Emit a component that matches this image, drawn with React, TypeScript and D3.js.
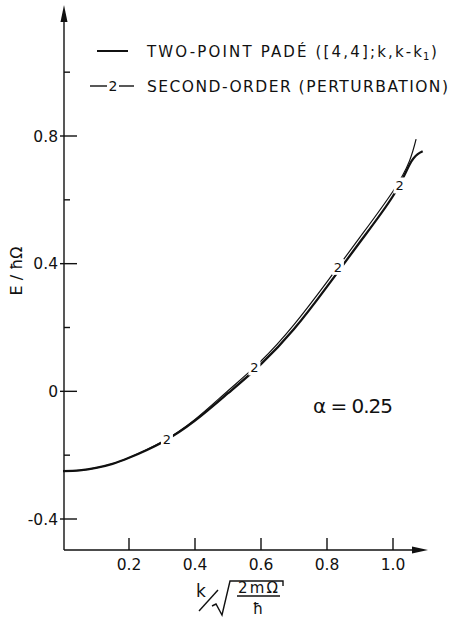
import React from "react";
import * as d3 from "d3";

// Two-point Padé curve (k, E/ħΩ)
const kPade = [0, 0.05, 0.1, 0.15, 0.2, 0.3, 0.4, 0.5, 0.6, 0.7, 0.8, 0.9, 1.0, 1.05, 1.075, 1.09];
const ePade = [-0.25, -0.2475, -0.24, -0.227, -0.208, -0.16, -0.092, -0.006, 0.085, 0.195, 0.328, 0.468, 0.612, 0.71, 0.743, 0.752];

// Second-order perturbation curve
const kPert = [0, 0.05, 0.1, 0.15, 0.2, 0.3, 0.4, 0.5, 0.6, 0.7, 0.8, 0.9, 1.0, 1.05, 1.07];
const ePert = [-0.25, -0.2475, -0.24, -0.227, -0.208, -0.158, -0.088, 0.002, 0.095, 0.209, 0.343, 0.483, 0.627, 0.722, 0.79];

// "2" curve labels
const labelK = [0.315, 0.58, 0.833, 1.02];
const labelE = [-0.151, 0.075, 0.39, 0.645];

const yTicksMajor = [-0.4, 0, 0.4, 0.8];
const yTicksMinor = [-0.2, 0.2, 0.6, 1.0];
const xTicks = [0.2, 0.4, 0.6, 0.8, 1.0];

const legendPade = "TWO-POINT PADÉ ([4,4];k,k-k";
const legendPert = "SECOND-ORDER (PERTURBATION)";
const alphaText = "α = 0.25";

const FONT = "'DejaVu Sans', sans-serif";

export default function App() {
  const x = d3.scaleLinear().domain([0, 1]).range([63, 393]);
  const y = d3.scaleLinear().domain([-0.4, 0.8]).range([519, 136]);
  const axX = 64;
  const axY = 550;

  const line = d3
    .line<[number, number]>()
    .x((d) => x(d[0]))
    .y((d) => y(d[1]))
    .curve(d3.curveNatural);

  const padePts = kPade.map((k, i) => [k, ePade[i]] as [number, number]);
  const pertPts = kPert.map((k, i) => [k, ePert[i]] as [number, number]);

  const fmt = (v: number) => (v === 0 ? "0" : v.toFixed(1));

  return (
    <svg
      width={450}
      height={617}
      style={{ position: "absolute", left: 0, top: 0, background: "#fff" }}
    >
      <rect x={0} y={0} width={450} height={617} fill="#fff" />
      {/* axes */}
      <line x1={axX} y1={axY} x2={axX} y2={14} stroke="#111" strokeWidth={1.4} />
      <path d={`M${axX},5 L${axX - 3.5},22 L${axX + 3.5},22 Z`} fill="#111" />
      <line x1={axX} y1={axY} x2={418} y2={axY} stroke="#111" strokeWidth={1.4} />
      <path d={`M428,${axY} L412,${axY - 3.5} L412,${axY + 3.5} Z`} fill="#111" />

      {/* y ticks */}
      {yTicksMajor.map((v) => (
        <g key={"ym" + v}>
          <line x1={axX - 4} x2={axX + 13} y1={y(v)} y2={y(v)} stroke="#111" strokeWidth={1.4} />
          <text
            x={axX - 6}
            y={y(v)}
            dy="0.36em"
            textAnchor="end"
            fontFamily={FONT}
            fontSize={15.5}
            fill="#111"
          >
            {fmt(v)}
          </text>
        </g>
      ))}
      {yTicksMinor.map((v) => (
        <line key={"yn" + v} x1={axX} x2={axX + 6} y1={y(v)} y2={y(v)} stroke="#111" strokeWidth={1.4} />
      ))}

      {/* x ticks */}
      {xTicks.map((v) => (
        <g key={"x" + v}>
          <line x1={x(v)} x2={x(v)} y1={axY} y2={axY - 12} stroke="#111" strokeWidth={1.4} />
          <text
            x={x(v)}
            y={axY + 20}
            textAnchor="middle"
            fontFamily={FONT}
            fontSize={15.5}
            fill="#111"
          >
            {fmt(v)}
          </text>
        </g>
      ))}

      {/* curves */}
      <path d={line(padePts) || ""} fill="none" stroke="#111" strokeWidth={2.3} />
      <path d={line(pertPts) || ""} fill="none" stroke="#111" strokeWidth={1.2} />

      {/* "2" labels */}
      {labelK.map((k, i) => (
        <g key={"l" + i}>
          <rect x={x(k) - 6} y={y(labelE[i]) - 8} width={12} height={16} fill="#fff" />
          <text
            x={x(k)}
            y={y(labelE[i])}
            dy="0.36em"
            textAnchor="middle"
            fontFamily={FONT}
            fontSize={13}
            fill="#111"
          >
            2
          </text>
        </g>
      ))}

      {/* legend */}
      <line x1={97} x2={128} y1={51} y2={51} stroke="#111" strokeWidth={2} />
      <text x={147} y={57} fontFamily={FONT} fontSize={15} fill="#111" textLength={275} lengthAdjust="spacing">
        {legendPade}
      </text>
      <text x={423} y={60} fontFamily={FONT} fontSize={10} fill="#111">1</text>
      <text x={431} y={57} fontFamily={FONT} fontSize={15} fill="#111">)</text>
      <line x1={90} x2={107} y1={86} y2={86} stroke="#111" strokeWidth={1.4} />
      <text x={113} y={86} dy="0.36em" textAnchor="middle" fontFamily={FONT} fontSize={14} fill="#111">2</text>
      <line x1={119} x2={134} y1={86} y2={86} stroke="#111" strokeWidth={1.4} />
      <text x={147} y={92} fontFamily={FONT} fontSize={15.5} fill="#111" textLength={301} lengthAdjust="spacing">
        {legendPert}
      </text>

      {/* alpha */}
      <text x={313} y={413} fontFamily={FONT} fontSize={20} fill="#111" textLength={80} lengthAdjust="spacing">
        {alphaText}
      </text>

      {/* y axis title */}
      <text
        transform="translate(22,271) rotate(-90)"
        textAnchor="middle"
        fontFamily={FONT}
        fontSize={16}
        fill="#111"
      >
        E / ħΩ
      </text>

      {/* x axis title: k / sqrt(2mΩ/ħ) */}
      <text x={196} y={597} fontFamily={FONT} fontSize={17} fill="#111">k</text>
      <line x1={199} y1={611} x2={218} y2={590} stroke="#111" strokeWidth={1.4} />
      <path d="M212,606 L216,604 L222,615 L230,581 L283,581 L283,586" fill="none" stroke="#111" strokeWidth={1.4} />
      <text x={258} y={593} textAnchor="middle" fontFamily={FONT} fontSize={15} fill="#111" textLength={40} lengthAdjust="spacing">
        2mΩ
      </text>
      <line x1={237} x2={280} y1={596} y2={596} stroke="#111" strokeWidth={1.4} />
      <text x={258} y={614} textAnchor="middle" fontFamily={FONT} fontSize={15} fill="#111">ħ</text>
    </svg>
  );
}
